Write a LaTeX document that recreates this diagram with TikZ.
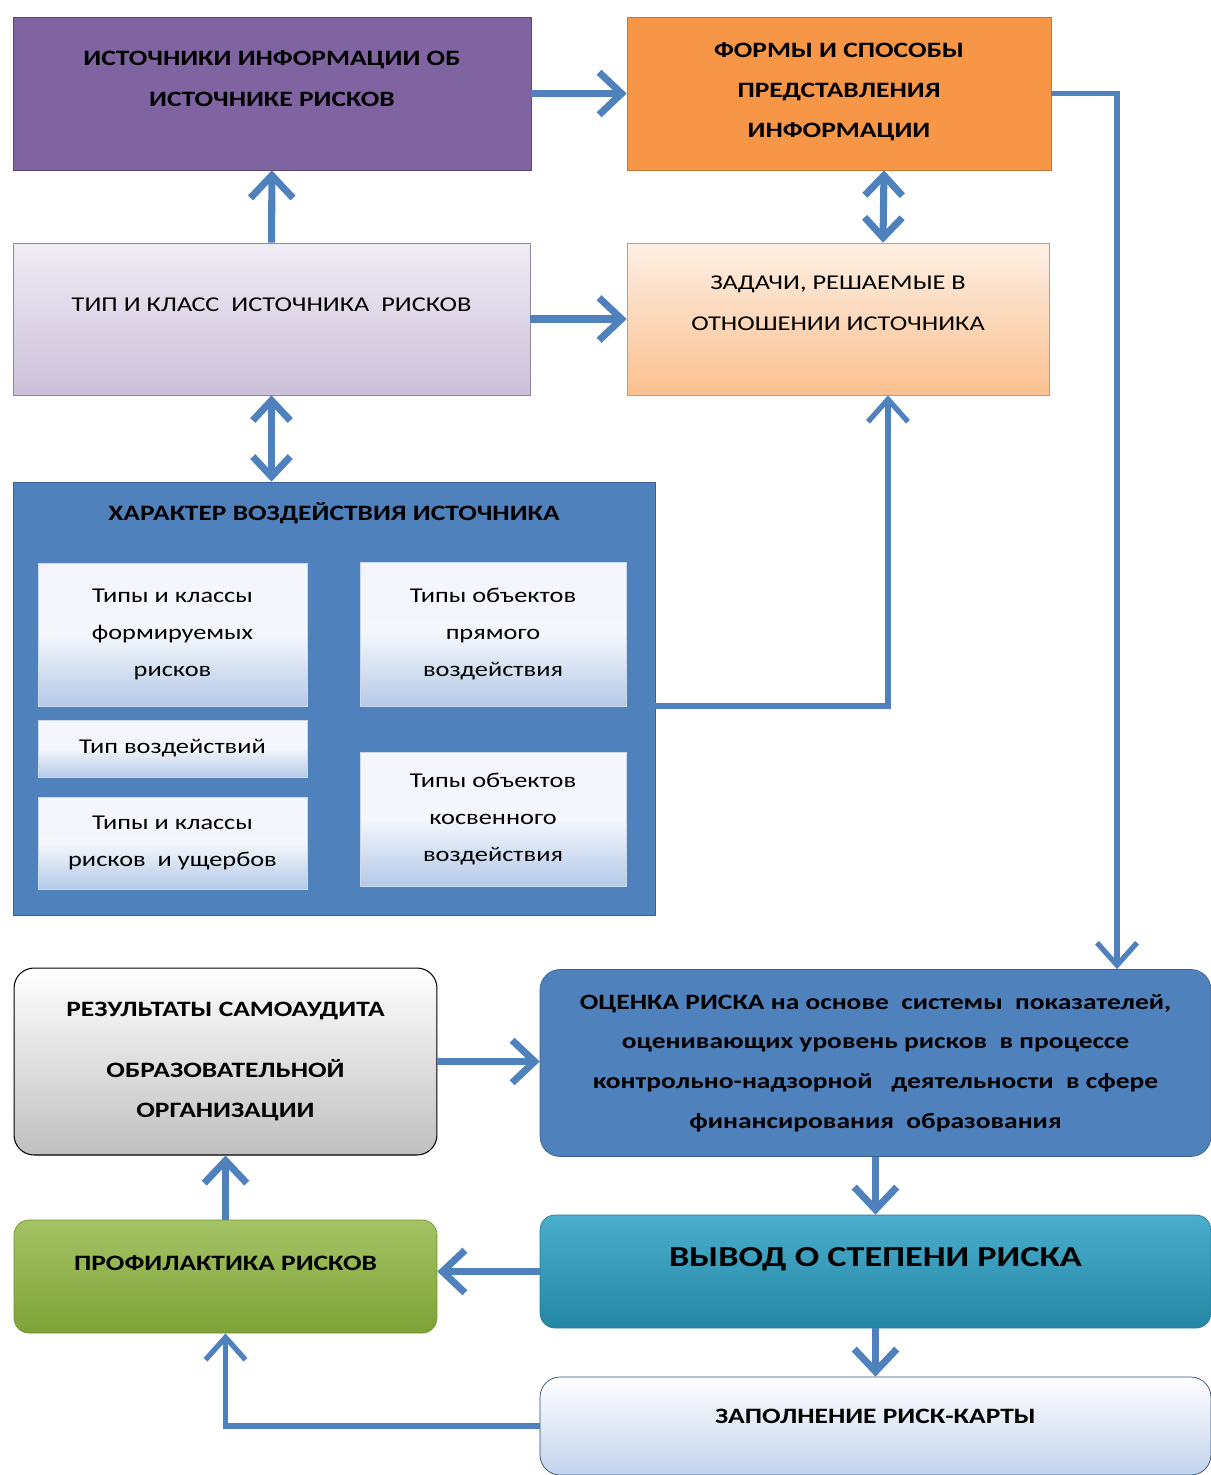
\documentclass[tikz,border=0pt]{standalone}
\usepackage{fontspec}
\setmainfont{Carlito}[FakeStretch=1.25]
\usetikzlibrary{arrows.meta}
\definecolor{arrowblue}{HTML}{4F81BD}
\definecolor{srcpurple}{HTML}{8064A2}
\definecolor{formorange}{HTML}{F79646}
\definecolor{lilac}{HTML}{CCC0DA}
\definecolor{peach}{HTML}{FAC08F}
\definecolor{effblue}{HTML}{4F81BD}
\definecolor{paleblue}{HTML}{B4C9E8}
\definecolor{greenish}{HTML}{8DB43E}
\definecolor{tealish}{HTML}{2A9FC2}
\tikzstyle{arrow} = [line width=4pt,draw=arrowblue,-{Straight Barb[length=0.45cm,width=0.85cm]}]
\tikzstyle{twoway} = [line width=4pt,draw=arrowblue,{Straight Barb[length=0.4cm,width=0.75cm]}-{Straight Barb[length=0.4cm,width=0.75cm]}]
\tikzstyle{thinarrow} = [line width=3pt,draw=arrowblue,-{Straight Barb[length=0.45cm,width=0.8cm]}]

\begin{document}
\begin{tikzpicture}
        [
            x=0.02cm, y=-0.02cm,
            box/.style={rectangle,thin,align=center,font=\fontsize{12.5}{23}\selectfont\bfseries},
            roundbox/.style={box,rounded corners=0.4cm},
            inner/.style={rectangle,draw=white!70!effblue,align=center,top color=blue!4!white,bottom color=paleblue,middle color=white!85!paleblue,font=\fontsize{12}{21}\selectfont},
        ]
    \useasboundingbox (0,0) rectangle (1211,1475);
    
    % top rows
    \node[box,draw=srcpurple!70!black,fill=srcpurple,minimum width=10.36cm,minimum height=3.06cm] (src) at (272,93.5)
        {ИСТОЧНИКИ ИНФОРМАЦИИ ОБ\\ИСТОЧНИКЕ РИСКОВ\\[-6pt]~};
    \node[box,draw=formorange!80!black,fill=formorange,minimum width=8.48cm,minimum height=3.06cm] (forms) at (839,93.5)
        {ФОРМЫ И СПОСОБЫ\\ПРЕДСТАВЛЕНИЯ\\ИНФОРМАЦИИ\\[-19pt]~};
    \node[box,font=\fontsize{12}{23}\selectfont,draw=lilac!70!black,top color=lilac!30!white,bottom color=lilac,minimum width=10.34cm,minimum height=3.04cm] (type) at (271.5,319)
        {ТИП И КЛАСС\ \ ИСТОЧНИКА\ \ РИСКОВ\\[-7pt]~};
    \node[box,font=\fontsize{12}{23}\selectfont,draw=peach!80!black,top color=peach!25!white,bottom color=peach,minimum width=8.44cm,minimum height=3.04cm] (tasks) at (838,319)
        {ЗАДАЧИ, РЕШАЕМЫЕ В\\ОТНОШЕНИИ ИСТОЧНИКА\\[-5pt]~};
    
    % character of impact
    \node[rectangle,draw=effblue!75!black,fill=effblue,minimum width=12.84cm,minimum height=8.66cm] (eff) at (334,698.5) {};
    \node[font=\fontsize{12.5}{23}\selectfont\bfseries] (efftitle) at (334,513) {ХАРАКТЕР ВОЗДЕЙСТВИЯ ИСТОЧНИКА};
    \node[inner,minimum width=5.38cm,minimum height=2.86cm] (formed) at (172.5,634.5) {Типы и классы\\формируемых\\рисков};
    \node[inner,minimum width=5.38cm,minimum height=1.14cm] (impact) at (172.5,748.5) {Тип воздействий};
    \node[inner,minimum width=5.38cm,minimum height=1.84cm] (damage) at (172.5,843) {Типы и классы\\рисков\ \ и ущербов};
    \node[inner,minimum width=5.32cm,minimum height=2.88cm] (direct) at (493,634) {Типы объектов\\прямого\\воздействия};
    \node[inner,minimum width=5.32cm,minimum height=2.68cm] (indirect) at (493,819) {Типы объектов\\косвенного\\воздействия};
    
    % lower part
    \node[roundbox,draw=black,semithick,top color=white,bottom color=black!25,minimum width=8.46cm,minimum height=3.74cm] (audit) at (225.5,1061.5)
        {РЕЗУЛЬТАТЫ САМОАУДИТА\\[12pt]ОБРАЗОВАТЕЛЬНОЙ\\ОРГАНИЗАЦИИ};
    \node[roundbox,draw=effblue!75!black,fill=effblue,minimum width=13.42cm,minimum height=3.74cm,font=\fontsize{12.5}{22.5}\selectfont\bfseries] (assess) at (875.5,1063)
        {ОЦЕНКА РИСКА на основе\ \ системы\ \ показателей,\\оценивающих уровень рисков\ \ в процессе\\контрольно-надзорной\ \ \ деятельности\ \ в сфере\\финансирования\ \ образования};
    \node[roundbox,rounded corners=0.3cm,draw=greenish!80!black,top color=greenish!80!white,bottom color=greenish!90!black,minimum width=8.46cm,minimum height=2.26cm] (prev) at (225.5,1276.5)
        {ПРОФИЛАКТИКА РИСКОВ\\[-8pt]~};
    \node[roundbox,rounded corners=0.3cm,draw=tealish!80!black,top color=tealish!85!white,bottom color=tealish!85!black,minimum width=13.42cm,minimum height=2.26cm,font=\fontsize{16.5}{26}\selectfont\bfseries] (concl) at (875.5,1271.5)
        {ВЫВОД О СТЕПЕНИ РИСКА\\[-9pt]~};
    \node[roundbox,draw=effblue!60!black,top color=white,bottom color=paleblue!80!white,minimum width=13.42cm,minimum height=1.96cm] (card) at (875.5,1426)
        {ЗАПОЛНЕНИЕ РИСК-КАРТЫ\\[-12pt]~};
    
    % connectors
    \coordinate (bend) at (1117,93.5);
    \draw[arrow] (src) -- (forms);
    \draw[arrow] (type) -- (src);
    \draw[arrow] (type) -- (tasks);
    \draw[twoway] ([xshift=0.9cm]forms.south) -- ([xshift=0.9cm]tasks.north);
    \draw[twoway] (type.south) -- (type.south |- eff.north);
    \draw[thinarrow] ([yshift=-0.15cm]eff.east) -| ([xshift=1cm]tasks.south);
    \draw[thinarrow] (forms.east) -- (bend) -- (bend |- assess.north);
    \draw[arrow] (audit) -- (audit -| assess.west);
    \draw[arrow] (assess) -- (concl);
    \draw[arrow] (concl.west) -- (concl.west -| prev.east);
    \draw[arrow] (concl) -- (card);
    \draw[thinarrow] (card.west) -| (prev.south);
    \draw[arrow] (prev) -- (audit);
    \end{tikzpicture}
\end{document}
